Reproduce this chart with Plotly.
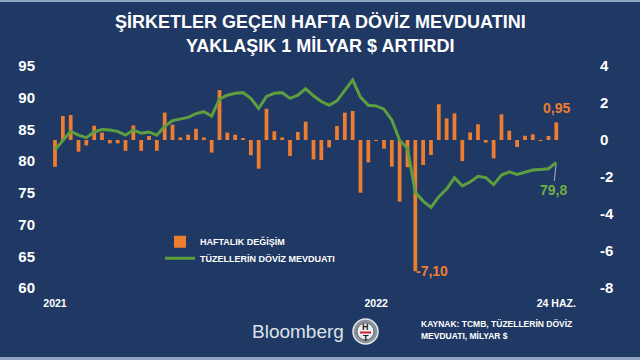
import plotly.graph_objects as go

# ---------------- data ----------------
weekly_change = [
    -1.45, 1.30, 1.35, -0.63, -0.29, 0.77, 0.40, -0.18, -0.18, -0.59,
    0.79, -0.59, 0.22, -0.58, 1.48, 0.83, 0.14, 0.29, 0.61, 0.14,
    -0.68, 2.70, 0.40, 0.29, 0.07, -0.83, -1.55, 1.69, 0.47, 0.14,
    -0.86, 0.43, 0.99, -1.05, -1.08, -0.40, 0.76, 1.48, 1.57, -2.85,
    -1.21, -0.05, -0.47, -1.44, -3.33, -1.47, -7.10, -1.35, -0.81, 1.93,
    1.17, 1.44, -1.14, 0.41, 0.85, -0.14, -0.99, 1.39, 0.50, -0.38,
    0.23, 0.31, -0.02, 0.22, 0.95,
]
deposits = [
    81.8, 83.3, 84.7, 84.1, 83.7, 84.6, 85.0, 84.9, 84.7, 84.1,
    84.9, 84.4, 84.6, 84.1, 85.5, 86.4, 86.6, 86.9, 87.5, 87.8,
    87.1, 89.8, 90.4, 90.7, 90.8, 89.9, 88.3, 90.2, 90.7, 90.8,
    89.9, 90.4, 91.4, 90.3, 89.4, 88.8, 89.5, 91.1, 92.8, 90.1,
    88.8, 88.7, 88.2, 86.5, 83.3, 82.0, 75.1, 73.7, 72.7, 74.4,
    75.6, 77.4, 76.1, 76.7, 77.6, 77.4, 76.3, 77.8, 78.3, 77.9,
    78.2, 78.6, 78.7, 78.8, 79.8,
]
weeks = list(range(len(weekly_change)))

x_tick_pos = [0, 41, 64]
x_tick_text = ["2021", "2022", "24 HAZ."]
left_ticks = [60, 65, 70, 75, 80, 85, 90, 95]
left_tick_text = ["60", "65", "70", "75", "80", "85", "90", "95"]
right_ticks = [-8, -6, -4, -2, 0, 2, 4]
right_tick_text = ["-8", "-6", "-4", "-2", "0", "2", "4"]

title_lines = ["ŞİRKETLER GEÇEN HAFTA DÖVİZ MEVDUATINI", "YAKLAŞIK 1 MİLYAR $ ARTIRDI"]
source_lines = ["KAYNAK: TCMB, TÜZELLERİN DÖVİZ", "MEVDUATI, MİLYAR $"]
bar_name = "HAFTALIK DEĞİŞİM"
line_name = "TÜZELLERİN DÖVİZ MEVDUATI"

# ---------------- style ----------------
BG = "#1f3864"
ORANGE = "#ED7D31"
GREEN_LINE = "#5E9E3F"
GREEN_TEXT = "#70AD47"
FONT = "Liberation Sans"
W, H = 640, 360
ML, MR, MT, MB = 50, 70, 66, 72
PW, PH = W - ML - MR, H - MT - MB


def px(x):
    return (x - ML) / PW


def py(y):
    return (H - MB - y) / PH


def fmt(v, nd):
    return f"{v:.{nd}f}".replace(".", ",")


fig = go.Figure()
fig.add_trace(go.Bar(
    x=weeks, y=weekly_change, name=bar_name, yaxis="y", legend="legend",
    marker=dict(color=ORANGE, line=dict(width=0)), width=0.48,
))
fig.add_trace(go.Scatter(
    x=weeks, y=deposits, name=line_name, yaxis="y2", mode="lines", legend="legend2",
    line=dict(color=GREEN_LINE, width=3),
))

annotations = []
for i, t in enumerate(title_lines):
    annotations.append(dict(
        text=t, xref="paper", yref="paper", x=px(320), y=py(22 + 24 * i),
        xanchor="center", yanchor="middle", showarrow=False,
        font=dict(family=FONT, size=18, color="white", weight="bold"),
    ))
annotations.append(dict(
    text=fmt(weekly_change[-1], 2), x=weeks[-1], y=weekly_change[-1], yref="y",
    xanchor="center", yanchor="bottom", showarrow=False, yshift=4,
    font=dict(family=FONT, size=14, color=ORANGE, weight="bold"),
))
imin = weekly_change.index(min(weekly_change))
annotations.append(dict(
    text=fmt(weekly_change[imin], 2), x=weeks[imin], y=weekly_change[imin], yref="y",
    xanchor="left", yanchor="middle", showarrow=False, xshift=-1, yshift=0,
    font=dict(family=FONT, size=14, color=ORANGE, weight="bold"),
))
annotations.append(dict(
    text=fmt(deposits[-1], 1), x=weeks[-1], y=deposits[-1], yref="y2",
    showarrow=True, arrowhead=0, arrowwidth=1, arrowcolor="#a9b4c4",
    ax=-3, ay=28, standoff=2,
    font=dict(family=FONT, size=14, color=GREEN_TEXT, weight="bold"),
))
for i, t in enumerate(source_lines):
    annotations.append(dict(
        text=t, xref="paper", yref="paper", x=px(419), y=py(324 + 12 * i),
        xanchor="left", yanchor="middle", showarrow=False,
        font=dict(family=FONT, size=8.5, color="white", weight="bold"),
    ))
annotations.append(dict(
    text="Bloomberg", xref="paper", yref="paper", x=px(346), y=py(331),
    xanchor="right", yanchor="middle", showarrow=False,
    font=dict(family=FONT, size=19, color="#dde2ea"),
))
annotations.append(dict(
    text="H", xref="paper", yref="paper", x=px(365.5), y=py(327),
    xanchor="center", yanchor="middle", showarrow=False,
    font=dict(family=FONT, size=9, color="#222", weight="bold"),
))
annotations.append(dict(
    text="T", xref="paper", yref="paper", x=px(365.5), y=py(338),
    xanchor="center", yanchor="middle", showarrow=False,
    font=dict(family=FONT, size=9, color="#222", weight="bold"),
))

shapes = [
    dict(type="rect", xref="paper", yref="paper", x0=px(-5), x1=px(W + 5),
         y0=py(2), y1=py(-5), fillcolor="#8fa3c2", line=dict(width=0), layer="below"),
    dict(type="rect", xref="paper", yref="paper", x0=px(-5), x1=px(W + 5),
         y0=py(H + 5), y1=py(357), fillcolor="#8fa3c2", line=dict(width=0), layer="below"),
    dict(type="circle", xref="paper", yref="paper", x0=px(353), x1=px(378),
         y0=py(344), y1=py(319), fillcolor="#8d939c", line=dict(color="#e4e7ec", width=1.5)),
    dict(type="circle", xref="paper", yref="paper", x0=px(357), x1=px(374),
         y0=py(340), y1=py(323), fillcolor="#eceef1", line=dict(color="#5d636b", width=1)),
    dict(type="line", xref="paper", yref="paper", x0=px(360), x1=px(371),
         y0=py(332.5), y1=py(332.5), line=dict(color="#d0202a", width=2)),
]

legend_common = dict(
    xanchor="left", yanchor="middle", bgcolor="rgba(0,0,0,0)",
    font=dict(family=FONT, size=9, color="white", weight="bold"),
    itemwidth=30, borderwidth=0,
)

fig.update_layout(
    width=W, height=H,
    margin=dict(l=ML, r=MR, t=MT, b=MB, pad=0),
    paper_bgcolor=BG, plot_bgcolor=BG,
    font=dict(family=FONT, color="white"),
    showlegend=True,
    legend=dict(x=px(160), y=py(241.7), **legend_common),
    legend2=dict(x=px(160), y=py(258.3), **legend_common),
    xaxis=dict(
        range=[-0.64, 65.75], showgrid=False, zeroline=False, showline=False,
        tickvals=x_tick_pos, ticktext=x_tick_text, ticks="outside", ticklen=5,
        tickcolor="rgba(0,0,0,0)",
        tickfont=dict(family=FONT, size=10.5, color="white", weight="bold"),
    ),
    yaxis=dict(
        range=[-8, 4], side="right", showgrid=False, zeroline=False, showline=False,
        tickvals=right_ticks, ticktext=right_tick_text, ticks="outside", ticklen=26,
        tickcolor="rgba(0,0,0,0)",
        tickfont=dict(family=FONT, size=15, color="white", weight="bold"),
    ),
    yaxis2=dict(
        range=[60, 95], side="left", overlaying="y", showgrid=False, zeroline=False,
        showline=False, tickvals=left_ticks, ticktext=left_tick_text, ticks="outside",
        ticklen=11, tickcolor="rgba(0,0,0,0)",
        tickfont=dict(family=FONT, size=15, color="white", weight="bold"),
    ),
    annotations=annotations,
    shapes=shapes,
)

fig.write_html(
    "out.html",
    config={"displayModeBar": False},
    post_script="document.body.style.margin='0';document.body.style.overflow='hidden';",
)
